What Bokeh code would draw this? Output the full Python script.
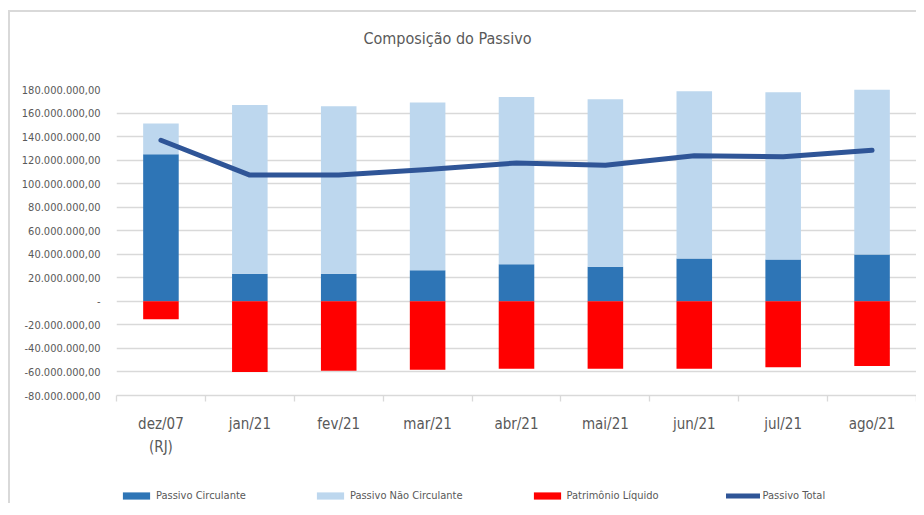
from bokeh.plotting import figure
from bokeh.layouts import column
from bokeh.models import (ColumnDataSource, Range1d, FixedTicker, Legend, LegendItem, Label)
from bokeh.embed import file_html
from bokeh.resources import INLINE

# ---- data ----
title_text = "Composição do Passivo"
categories = ["dez/07\n(RJ)", "jan/21", "fev/21", "mar/21", "abr/21",
              "mai/21", "jun/21", "jul/21", "ago/21"]
passivo_circulante = [125.0e6, 23.5e6, 23.5e6, 26.4e6, 31.5e6, 29.5e6, 36.3e6, 35.5e6, 39.7e6]
passivo_nao_circulante = [26.1e6, 143.4e6, 142.3e6, 142.6e6, 142.2e6, 142.3e6, 142.3e6, 142.2e6, 142.3e6]
patrimonio_liquido = [-15.3e6, -60.1e6, -58.9e6, -58.1e6, -57.3e6, -57.3e6, -57.3e6, -56.1e6, -55.0e6]
passivo_total = [136.9e6, 107.3e6, 107.3e6, 112.0e6, 117.6e6, 115.6e6, 123.8e6, 122.8e6, 128.4e6]
y_ticks = [-80e6, -60e6, -40e6, -20e6, 0, 20e6, 40e6, 60e6, 80e6, 100e6, 120e6, 140e6, 160e6, 180e6]
series_names = ["Passivo Circulante", "Passivo Não Circulante", "Patrimônio Líquido", "Passivo Total"]

FONT = "'DejaVu Sans Condensed', 'Liberation Sans', sans-serif"
GREY = "#595959"
GRID = "#d9d9d9"
C_CIRC, C_NC, C_PL, C_TOT = "#2E75B6", "#BDD7EE", "#FF0000", "#2F5597"
NAN = float("nan")


def strip(height):
    f = figure(width=906, height=height, output_backend="svg", toolbar_location=None,
               x_axis_type=None, y_axis_type=None,
               x_range=Range1d(0, 1), y_range=Range1d(0, 1),
               min_border_left=0, min_border_right=0, min_border_top=0, min_border_bottom=0)
    f.outline_line_color = None
    f.grid.grid_line_color = None
    return f


# ---- title strip ----
ts = strip(58)
ts.add_layout(Label(x=331, y=32, x_units="screen", y_units="screen", text=title_text,
                    text_align="center", text_baseline="middle", text_font=FONT,
                    text_font_size="16px", text_color=GREY))

# ---- main chart ----
xs = list(range(len(categories)))
src = ColumnDataSource(dict(
    x=xs,
    circ=passivo_circulante,
    top_nc=[c + n for c, n in zip(passivo_circulante, passivo_nao_circulante)],
    pl=patrimonio_liquido,
    total=passivo_total,
))

p = figure(width=906, height=402, output_backend="svg", toolbar_location=None,
           x_range=Range1d(-0.5, len(categories) - 0.5),
           y_range=Range1d(-80e6, 180e6),
           min_border_left=106, min_border_right=0, min_border_top=19, min_border_bottom=77)
p.outline_line_color = None

p.vbar(x="x", width=0.4, bottom=0, top="circ", source=src, fill_color=C_CIRC, line_color=None)
p.vbar(x="x", width=0.4, bottom="circ", top="top_nc", source=src, fill_color=C_NC, line_color=None)
p.vbar(x="x", width=0.4, bottom=0, top="pl", source=src, fill_color=C_PL, line_color=None)
p.line(x="x", y="total", source=src, line_width=5, line_color=C_TOT,
       line_cap="round", line_join="round")


def fmt(v):
    if v == 0:
        return "-"
    s = f"{v:,.2f}"
    return s.replace(",", "X").replace(".", ",").replace("X", ".")


p.yaxis.ticker = FixedTicker(ticks=y_ticks)
p.yaxis.major_label_overrides = {int(v): fmt(v) for v in y_ticks}
p.yaxis.axis_line_color = None
p.yaxis.major_tick_line_color = None
p.yaxis.minor_tick_line_color = None
p.yaxis.major_label_standoff = 10
p.yaxis.major_label_text_font = FONT
p.yaxis.major_label_text_font_size = "11px"
p.yaxis.major_label_text_color = GREY

p.ygrid.ticker = FixedTicker(ticks=y_ticks)
p.ygrid.grid_line_color = GRID
p.ygrid.grid_line_width = 1.3
p.xgrid.grid_line_color = None

p.xaxis.ticker = FixedTicker(ticks=xs, minor_ticks=[i - 0.5 for i in range(len(categories) + 1)])
p.xaxis.major_label_overrides = {i: c for i, c in zip(xs, categories)}
p.xaxis.axis_line_color = GRID
p.xaxis.axis_line_width = 1.3
p.xaxis.major_tick_line_color = None
p.xaxis.major_tick_out = 0
p.xaxis.major_tick_in = 0
p.xaxis.minor_tick_line_color = GRID
p.xaxis.minor_tick_line_width = 1.3
p.xaxis.minor_tick_out = 6
p.xaxis.minor_tick_in = 0
p.xaxis.major_label_standoff = 13
p.xaxis.major_label_text_font = FONT
p.xaxis.major_label_text_font_size = "15px"
p.xaxis.major_label_text_line_height = 1.3
p.xaxis.major_label_text_color = GREY

# ---- legend strip (legend-only glyphs, nothing drawn in the strip) ----
lg = strip(31)
g1 = lg.vbar(x=[NAN], width=0.4, top=[NAN], fill_color=C_CIRC, line_color=None)
g2 = lg.vbar(x=[NAN], width=0.4, top=[NAN], fill_color=C_NC, line_color=None)
g3 = lg.vbar(x=[NAN], width=0.4, top=[NAN], fill_color=C_PL, line_color=None)
g4 = lg.line(x=[NAN], y=[NAN], line_width=5, line_color=C_TOT, line_cap="round")

legend = Legend(items=[LegendItem(label=n, renderers=[g]) for n, g in zip(series_names, [g1, g2, g3, g4])],
                orientation="horizontal", location=(3, 0), spacing=67,
                glyph_width=34, glyph_height=9, label_standoff=3, label_height=16,
                padding=0, margin=0, border_line_color=None, background_fill_alpha=0,
                label_text_font=FONT, label_text_font_size="11px", label_text_color=GREY)
lg.add_layout(legend, "center")

lay = column(ts, p, lg, spacing=0,
             styles={"margin-left": "8px", "margin-top": "10px",
                     "border-top": "2px solid #d9d9d9", "border-left": "2px solid #d9d9d9"})

open("out.html", "w").write(file_html(lay, INLINE))
